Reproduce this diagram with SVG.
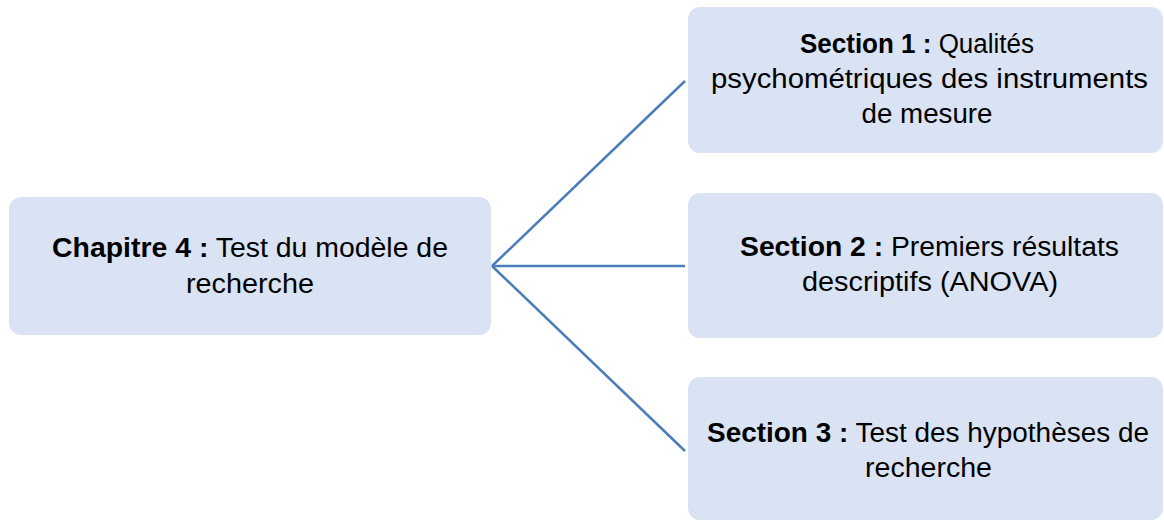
<svg xmlns="http://www.w3.org/2000/svg" width="1164" height="520" viewBox="0 0 1164 520">
<style>
.box{fill:#DAE3F3;stroke:none}
.t{font-family:"Liberation Sans",Arial,sans-serif;font-size:27px;fill:#000;text-anchor:middle}
.b{font-weight:bold}
.c{stroke:#4A7EBB;stroke-width:2.5;fill:none}
</style>
<rect width="1164" height="520" fill="#fff"/>
<g id="connectors">
<line class="c" x1="492" y1="266" x2="685" y2="81"/>
<line class="c" x1="492" y1="266" x2="685" y2="266"/>
<line class="c" x1="492" y1="266" x2="685" y2="451"/>
</g>
<g id="chapitre4">
<rect class="box" x="9" y="197" width="482" height="138" rx="12"/>
<text class="t" x="250" y="257" textLength="396" lengthAdjust="spacingAndGlyphs"><tspan class="b">Chapitre 4 :</tspan> Test du modèle de</text>
<text class="t" x="250" y="293" textLength="128" lengthAdjust="spacingAndGlyphs">recherche</text>
</g>
<g id="section1">
<rect class="box" x="688" y="7" width="475" height="146" rx="12"/>
<text class="t" x="917" y="53" textLength="234" lengthAdjust="spacingAndGlyphs"><tspan class="b">Section 1 :</tspan> Qualités</text>
<text class="t" x="929.5" y="88" textLength="437" lengthAdjust="spacingAndGlyphs">psychométriques des instruments</text>
<text class="t" x="927" y="123" textLength="131" lengthAdjust="spacingAndGlyphs">de mesure</text>
</g>
<g id="section2">
<rect class="box" x="688" y="193" width="475" height="145" rx="12"/>
<text class="t" x="929.5" y="256" textLength="379" lengthAdjust="spacingAndGlyphs"><tspan class="b">Section 2 :</tspan> Premiers résultats</text>
<text class="t" x="930" y="291" textLength="256" lengthAdjust="spacingAndGlyphs">descriptifs (ANOVA)</text>
</g>
<g id="section3">
<rect class="box" x="688" y="377" width="475" height="143" rx="12"/>
<text class="t" x="928" y="442" textLength="442" lengthAdjust="spacingAndGlyphs"><tspan class="b">Section 3 :</tspan> Test des hypothèses de</text>
<text class="t" x="928.5" y="477" textLength="127" lengthAdjust="spacingAndGlyphs">recherche</text>
</g>
</svg>
